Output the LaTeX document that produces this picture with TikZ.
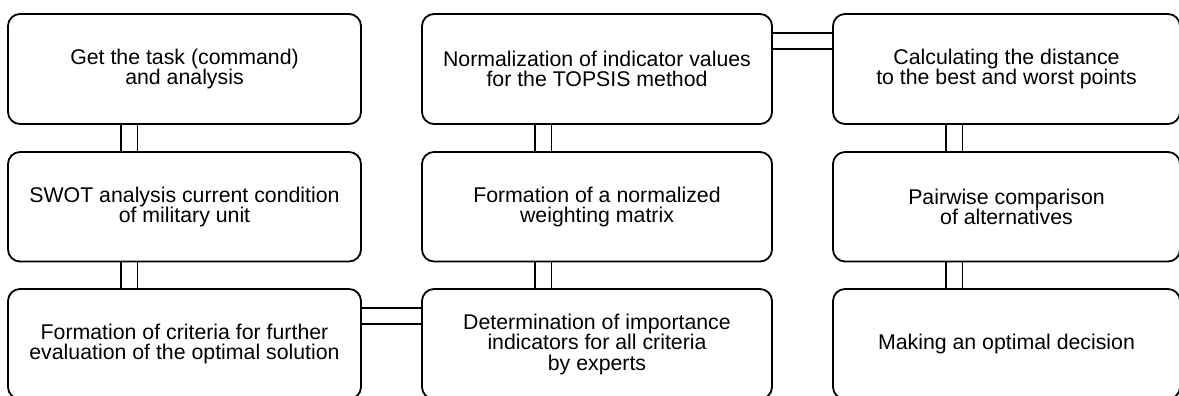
\documentclass[tikz,border=0pt]{standalone}
\usepackage{fontspec}
\setmainfont{Liberation Sans}
\begin{document}
\begin{tikzpicture}[x=1pt,y=-1pt,
  stepbox/.style={draw=black, line width=1.8pt, rounded corners=12pt, outer sep=0pt, inner sep=0pt,
    anchor=north west, align=center, font=\fontsize{21.3}{20.5}\selectfont},
  link/.style={draw=black, line width=1.8pt}]
\useasboundingbox (0,0) rectangle (1179,396);
\clip (0,0) rectangle (1179,396);
% column 1
\node[stepbox, minimum width=353pt, minimum height=110pt] (n11) at (8,14) {Get the task (command)\\and analysis};
\node[stepbox, minimum width=353pt, minimum height=109.5pt] (n21) at (8,152) {SWOT analysis current condition\\of military unit};
\node[stepbox, minimum width=353pt, minimum height=110pt] (n31) at (8,289) {Formation of criteria for further\\evaluation of the optimal solution};
% column 2
\node[stepbox, minimum width=350pt, minimum height=110pt] (n12) at (422,14) {Normalization of indicator values\\for the TOPSIS method};
\node[stepbox, minimum width=350pt, minimum height=109.5pt] (n22) at (422,152) {Formation of a normalized\\weighting matrix};
\node[stepbox, minimum width=350pt, minimum height=110pt] (n32) at (422,289) {Determination of importance\\indicators for all criteria\\by experts};
% column 3
\node[stepbox, minimum width=347pt, minimum height=110pt] (n13) at (833,14) {Calculating the distance\\to the best and worst points};
\node[stepbox, minimum width=347pt, minimum height=109.5pt] (n23) at (833,152) {Pairwise comparison\\of alternatives};
\node[stepbox, minimum width=347pt, minimum height=110pt] (n33) at (833,289) {Making an optimal decision};
% vertical double connectors
\foreach \a/\b in {n11/n21, n21/n31, n12/n22, n22/n32, n13/n23, n23/n33}{
  \draw[link] ([xshift=113pt]\a.south west) -- ([xshift=113pt]\b.north west);
  \draw[link] ([xshift=129.5pt]\a.south west) -- ([xshift=129.5pt]\b.north west);
}
% horizontal double connectors
\foreach \a/\b in {n12/n13, n31/n32}{
  \draw[link] ([yshift=-19pt]\a.north east) -- ([yshift=-19pt]\b.north west);
  \draw[link] ([yshift=-35pt]\a.north east) -- ([yshift=-35pt]\b.north west);
}
\end{tikzpicture}
\end{document}
